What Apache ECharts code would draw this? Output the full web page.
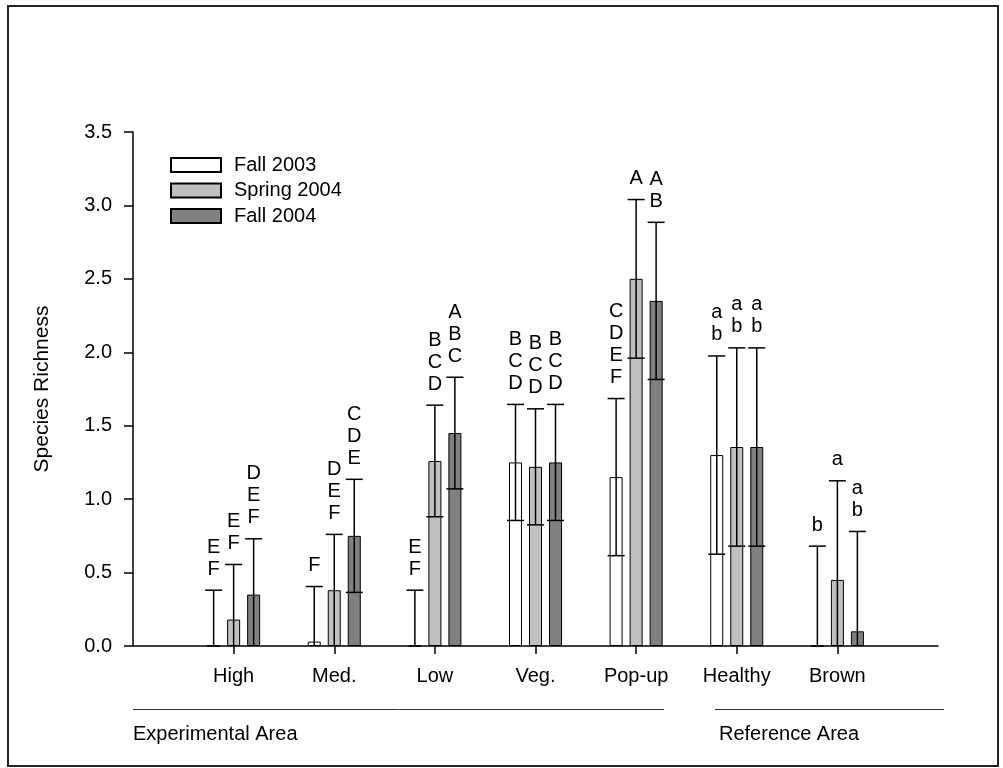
<!DOCTYPE html>
<html>
<head>
<meta charset="utf-8">
<script src="https://cdn.jsdelivr.net/npm/echarts@6/dist/echarts.min.js"></script>
<style>
html,body{margin:0;padding:0;background:#fff;}
#chart{width:1003px;height:768px;}
</style>
</head>
<body>
<div id="chart"></div>
<script>
// ---- data ----
const categories = ['High', 'Med.', 'Low', 'Veg.', 'Pop-up', 'Healthy', 'Brown'];
const seriesNames = ['Fall 2003', 'Spring 2004', 'Fall 2004'];
const fall2003 = [0, 0.03, 0, 1.25, 1.15, 1.30, 0];
const spring2004 = [0.18, 0.38, 1.26, 1.22, 2.50, 1.355, 0.45];
const fall2004 = [0.35, 0.75, 1.45, 1.25, 2.35, 1.355, 0.10];
const fall2003SE = [0.38, 0.375, 0.38, 0.395, 0.535, 0.675, 0.68];
const spring2004SE = [0.375, 0.38, 0.38, 0.395, 0.54, 0.675, 0.675];
const fall2004SE = [0.38, 0.385, 0.38, 0.395, 0.535, 0.675, 0.68];
const fall2003Letters = ['EF', 'F', 'EF', 'BCD', 'CDEF', 'ab', 'b'];
const spring2004Letters = ['EF', 'DEF', 'BCD', 'BCD', 'A', 'ab', 'a'];
const fall2004Letters = ['DEF', 'CDE', 'ABC', 'BCD', 'AB', 'ab', 'ab'];
const yTicks = [0, 0.5, 1.0, 1.5, 2.0, 2.5, 3.0, 3.5];
const groupLabels = ['Experimental Area', 'Reference Area'];

// ---- build ----
const FONT = '"Liberation Sans", Arial, sans-serif';
const FS = 20;
const axisCats = [''].concat(categories).concat(['']);
const pad = arr => ['-'].concat(arr).concat(['-']);
const means = [fall2003, spring2004, fall2004];
const ses = [fall2003SE, spring2004SE, fall2004SE];
const letters = [fall2003Letters, spring2004Letters, fall2004Letters];
const colors = ['#ffffff', '#c0c0c0', '#808080'];

const errData = [];
const errLabels = [];
for (let s = 0; s < 3; s++) {
  for (let i = 0; i < categories.length; i++) {
    errData.push([i + 1, s, means[s][i], ses[s][i]]);
    errLabels.push(letters[s][i].split('').join('\n'));
  }
}

const BAR_W = 13, BAR_STEP = 20, CAP = 8.5;

const chart = echarts.init(document.getElementById('chart'), null, {renderer: 'canvas'});
const option = {
  animation: false,
  backgroundColor: '#ffffff',
  grid: {left: 133, right: 65, top: 132, bottom: 122, containLabel: false},
  legend: {
    data: seriesNames,
    orient: 'vertical',
    left: 170, top: 155,
    padding: 0,
    icon: 'rect',
    itemWidth: 50, itemHeight: 14, itemGap: 5.5,
    textStyle: {fontSize: FS, fontFamily: FONT, color: '#000', padding: [0, 0, 0, 8]},
    selectedMode: false
  },
  xAxis: {
    type: 'category',
    data: axisCats,
    boundaryGap: false,
    axisLine: {lineStyle: {color: '#000', width: 1.5}},
    axisTick: {show: true, length: 8, interval: (idx) => idx > 0 && idx < axisCats.length - 1, lineStyle: {color: '#000', width: 1.5}},
    axisLabel: {interval: 0, fontSize: FS, fontFamily: FONT, color: '#000', margin: 20},
    splitLine: {show: false}
  },
  yAxis: {
    type: 'value',
    min: 0, max: 3.5, interval: 0.5,
    name: 'Species Richness',
    nameLocation: 'middle',
    nameGap: 80,
    nameTextStyle: {fontSize: FS + 1, fontFamily: FONT, color: '#000'},
    axisLine: {show: true, lineStyle: {color: '#000', width: 1.5}},
    axisTick: {show: true, length: 9, lineStyle: {color: '#000', width: 1.5}},
    axisLabel: {fontSize: FS, fontFamily: FONT, color: '#000', margin: 21, formatter: v => v.toFixed(1)},
    splitLine: {show: false}
  },
  series: [
    ...seriesNames.map((n, s) => ({
      name: n,
      type: 'bar',
      data: pad(means[s]),
      barWidth: BAR_W,
      barGap: '54%',
      itemStyle: {color: colors[s], borderColor: '#000', borderWidth: 1},
      z: 2
    })),
    {
      name: 'errors',
      type: 'custom',
      data: errData,
      z: 5,
      renderItem: function (params, api) {
        const cat = api.value(0), s = api.value(1), m = api.value(2), se = api.value(3);
        const x = api.coord([cat, 0])[0] + (s - 1) * BAR_STEP;
        const yTop = api.coord([cat, m + se])[1];
        const lo = m - se;
        const yLo = api.coord([cat, Math.max(lo, 0)])[1];
        const ls = {stroke: '#000', lineWidth: 1.5};
        const children = [
          {type: 'line', shape: {x1: x, y1: yLo, x2: x, y2: yTop}, style: ls},
          {type: 'line', shape: {x1: x - CAP, y1: yTop, x2: x + CAP, y2: yTop}, style: ls}
        ];
        if (lo > 0.01) {
          children.push({type: 'line', shape: {x1: x - CAP, y1: yLo, x2: x + CAP, y2: yLo}, style: ls});
        }
        children.push({
          type: 'text',
          style: {
            text: errLabels[params.dataIndex],
            x: x, y: yTop - 10,
            align: 'center', verticalAlign: 'bottom',
            fontSize: FS, fontFamily: FONT, lineHeight: 22, fill: '#000'
          }
        });
        return {type: 'group', children: children};
      }
    }
  ],
  graphic: [
    {type: 'rect', shape: {x: 8, y: 6, width: 990, height: 760}, style: {fill: 'none', stroke: '#222', lineWidth: 2}, silent: true},
    {type: 'line', shape: {x1: 133, y1: 709.5, x2: 664, y2: 709.5}, style: {stroke: '#333', lineWidth: 1}},
    {type: 'line', shape: {x1: 715, y1: 709.5, x2: 944, y2: 709.5}, style: {stroke: '#333', lineWidth: 1}},
    {type: 'text', style: {text: groupLabels[0], x: 133, y: 734, verticalAlign: 'middle', fontSize: FS, fontFamily: FONT, fill: '#000'}},
    {type: 'text', style: {text: groupLabels[1], x: 719, y: 734, verticalAlign: 'middle', fontSize: FS, fontFamily: FONT, fill: '#000'}}
  ]
};
chart.setOption(option);
</script>
</body>
</html>
